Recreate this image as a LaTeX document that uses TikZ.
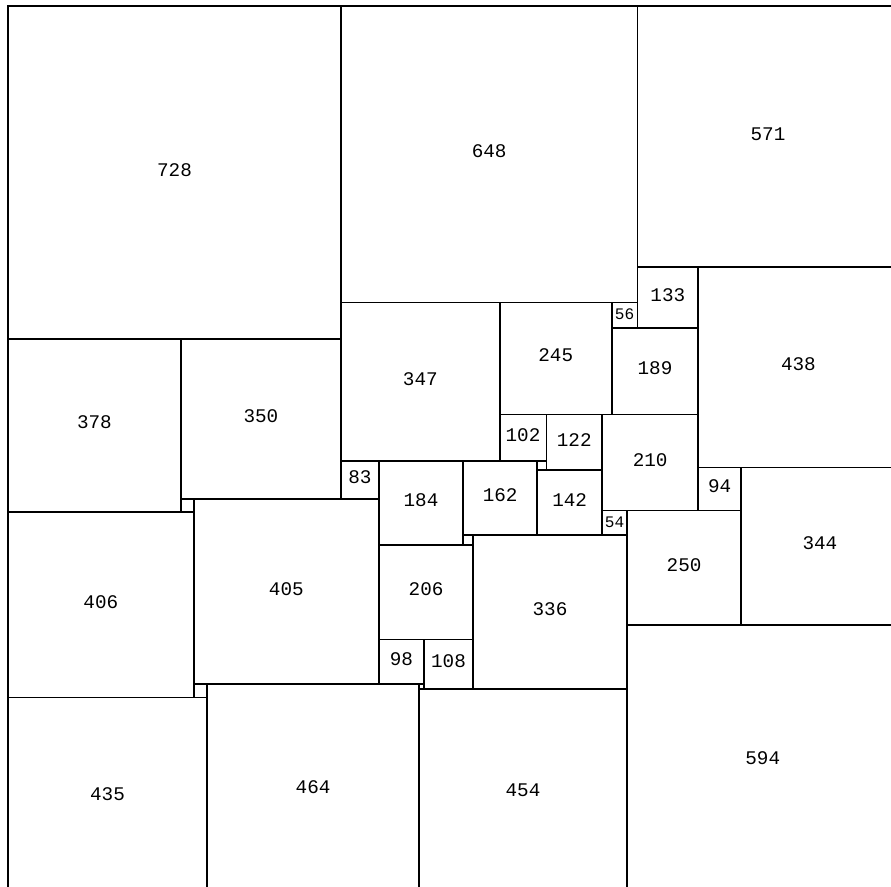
\documentclass[tikz,border=0pt]{standalone}
\usepackage{fontspec}
\setmonofont{Liberation Mono}

\begin{document}
\begin{tikzpicture}[font=\ttfamily\fontsize{12}{14}\selectfont,x=.1mm,y=-.1mm,line width=1pt]
\useasboundingbox (-17.5,-13) rectangle (1930.5,1926);
\clip (-17.5,-13) rectangle (1930.5,1926);
\foreach \x/\y/\s in {0/0/728,728/0/648,1376/0/571,0/728/378,378/728/350,728/648/347,1075/648/245,1376/571/133,1509/571/438,1320/704/189,1075/893/102,1177/893/122,1299/893/210,728/995/83,811/995/184,995/995/162,1157/1015/142,1509/1009/94,1603/1009/344,1353/1103/250,0/1106/406,406/1078/405,811/1179/206,1017/1157/336,811/1385/98,909/1385/108,0/1512/435,435/1483/464,899/1493/454,1353/1353/594}{
 \draw (\x,\y) rectangle ++(\s,\s);
 \node[inner sep=1pt] (sq\s) at (\x+\s/2,\y+\s/2-6) {\s};
}
\foreach \x/\y/\s in {1320/648/56,1299/1103/54}{
 \draw (\x,\y) rectangle ++(\s,\s);
 \node[inner sep=1pt,font=\ttfamily\fontsize{10}{12}\selectfont] (sq\s) at (\x+\s/2,\y+\s/2-2) {\s};
}
% unlabelled small squares
\foreach \x/\y/\s in {378/1078/28,1157/995/20,995/1157/22,406/1483/29,899/1483/10}{\draw (\x,\y) rectangle ++(\s,\s);}
\draw[line width=1.3pt] (0,0) rectangle (1947,1947);
\end{tikzpicture}
\end{document}
